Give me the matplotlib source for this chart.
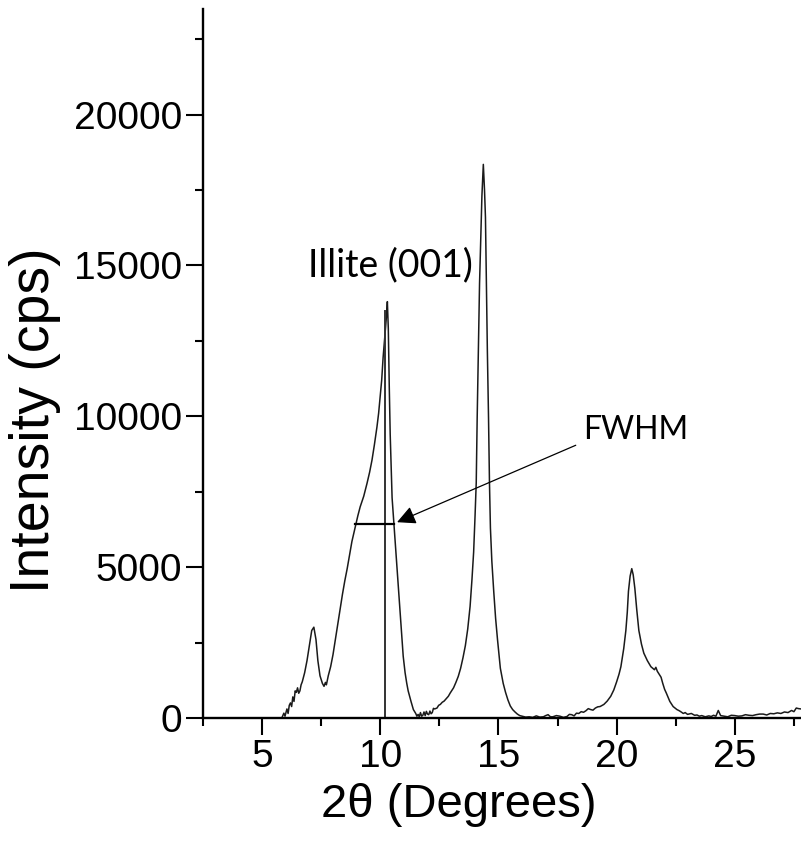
import matplotlib
matplotlib.use("Agg")
import matplotlib.pyplot as plt
from matplotlib.ticker import MultipleLocator

# 2theta (deg) and intensity (cps)
two_theta = [5.85, 5.92, 5.97, 6.05, 6.1, 6.15, 6.2, 6.25, 6.3, 6.35, 6.4, 6.45, 6.5, 6.55,
             6.6, 6.65, 6.7, 6.8, 6.9, 7.0,
             7.1, 7.19, 7.28, 7.36, 7.45, 7.55, 7.62, 7.68, 7.72, 7.8, 7.9, 8.0, 8.1, 8.2,
             8.3, 8.4, 8.5, 8.6, 8.7, 8.8, 8.93, 9.05, 9.15, 9.3, 9.44, 9.55, 9.65,
             9.75, 9.86, 9.93, 9.99, 10.06, 10.12, 10.2, 10.26, 10.3, 10.34, 10.38,
             10.42, 10.46, 10.5, 10.58, 10.65, 10.71, 10.78, 10.84, 10.91, 10.97,
             11.05, 11.12, 11.18, 11.3, 11.4, 11.5, 11.55, 11.6, 11.65, 11.7, 11.75,
             11.8, 11.85, 11.9, 11.95, 12.0, 12.05, 12.1, 12.15, 12.2, 12.25, 12.3,
             12.4, 12.47, 12.54, 12.62, 12.7, 12.8, 12.88, 12.96, 13.1, 13.2, 13.3,
             13.4, 13.5, 13.6, 13.7, 13.8, 13.88, 13.95, 14.01, 14.06, 14.1, 14.15,
             14.2, 14.25, 14.3, 14.36, 14.41, 14.45, 14.49, 14.53, 14.58, 14.62,
             14.66, 14.72, 14.8, 14.88, 14.96, 15.08, 15.2, 15.3, 15.4, 15.5, 15.6,
             15.7, 15.8, 15.9, 16.0, 16.15, 16.3, 16.45, 16.6, 16.75, 16.9, 17.0, 17.1,
             17.2, 17.3, 17.45, 17.6, 17.75, 17.9, 18.0, 18.1, 18.2, 18.3, 18.4, 18.5,
             18.6, 18.7, 18.8, 18.9, 19.0, 19.1, 19.2, 19.3, 19.46, 19.6, 19.75, 19.88,
             20.0, 20.1, 20.18, 20.3, 20.39, 20.45, 20.5, 20.57, 20.64, 20.7, 20.77,
             20.85, 20.94, 21.05, 21.15, 21.3, 21.45, 21.6, 21.66, 21.72, 21.8, 21.88,
             21.95, 22.03, 22.1, 22.25, 22.39, 22.55, 22.65, 22.73, 22.82, 22.9, 23.0,
             23.16, 23.3, 23.4, 23.5, 23.6, 23.75, 23.9, 24.0, 24.1, 24.2, 24.3, 24.4,
             24.55, 24.7, 24.85, 25.0, 25.15, 25.3, 25.45, 25.6, 25.75, 25.9, 26.05,
             26.2, 26.35, 26.5, 26.65, 26.8, 26.95, 27.1, 27.25, 27.4, 27.5, 27.6, 27.7,
             27.8]
intensity = [30, 160, 60, 300, 150, 420, 500, 380, 700, 550, 900, 850, 1000, 820,
             900, 1100, 1200, 1500, 1900, 2400,
             2900, 3010, 2600, 1900, 1400, 1150, 1050, 1180, 1100, 1400, 1700, 2100, 2600, 3100,
             3600, 4100, 4550, 4950, 5400, 5850, 6300, 6700, 7000, 7350, 7780, 8150, 8550,
             9050, 9650, 10100, 10600, 11200, 11950, 12700, 13300, 13800, 12900, 11000,
             9400, 8300, 7300, 6400, 5600, 4900, 4150, 3450, 2700, 2050,
             1500, 1150, 900, 550, 280, 150, 60, 120, 40, 180, 60,
             90, 200, 80, 220, 130, 110, 230, 140, 180, 320, 300,
             330, 420, 450, 520, 560, 650, 720, 830, 1000, 1180, 1380,
             1650, 2000, 2400, 2950, 3700, 4600, 5500, 6700, 7800, 9950, 12200,
             14400, 15800, 17300, 18350, 17500, 16600, 14400, 12200, 9950, 7800,
             6300, 5200, 4200, 3300, 2600, 1650, 1150, 850, 600, 400, 280,
             200, 130, 80, 60, 30, 40, 20, 70, 30, 40, 80, 110,
             40, 40, 80, 60, 20, 50, 120, 110, 70, 160, 150, 210,
             190, 240, 310, 280, 260, 330, 370, 380, 450, 560, 720, 930,
             1200, 1450, 1700, 2300, 2900, 3500, 4200, 4700, 4950, 4750, 4300,
             3600, 2900, 2450, 2150, 1900, 1700, 1600, 1680, 1550, 1450, 1350,
             1150, 950, 830, 550, 380, 280, 240, 200, 150, 180, 120,
             150, 90, 100, 60, 80, 40, 70, 50, 90, 60, 250, 80,
             60, 40, 90, 80, 60, 70, 110, 90, 80, 110, 130,
             130, 100, 150, 140, 170, 150, 200, 180, 250, 210, 330, 310,
             300]

peak_pos = 10.2
peak_top = 13500
fwhm_left = 8.93
fwhm_right = 10.58
fwhm_level = 6420

fig = plt.figure(figsize=(8.01, 8.43), dpi=100)
ax = fig.add_axes([203/801, 1-718/843, 598/801, 709/843])

ax.plot(two_theta, intensity, color="#1a1a1a", lw=1.1)
ax.plot([peak_pos, peak_pos], [0, peak_top], color="#333333", lw=1.4)
ax.plot([fwhm_left, fwhm_right], [fwhm_level, fwhm_level], color="black", lw=1.6)

ax.annotate("", xy=(10.71, 6490), xytext=(18.27, 9040),
            arrowprops=dict(arrowstyle="-|>", color="black", lw=0.9,
                            mutation_scale=28, shrinkA=0, shrinkB=0))
ax.text(18.57, 9540, "FWHM", family="Lato", fontsize=23, va="center", ha="left")
ax.text(10.41, 15000, "Illite (001)", family="Lato", fontsize=27, va="center", ha="center")

ax.set_xlim(2.5, 27.8)
ax.set_ylim(0, 23500)
ax.xaxis.set_major_locator(MultipleLocator(5))
ax.xaxis.set_minor_locator(MultipleLocator(2.5))
ax.yaxis.set_major_locator(MultipleLocator(5000))
ax.yaxis.set_minor_locator(MultipleLocator(2500))

for s in ["top", "right"]:
    ax.spines[s].set_visible(False)
for s in ["left", "bottom"]:
    ax.spines[s].set_linewidth(1.7)

ax.tick_params(which="major", direction="out", length=12, width=1.5, pad=3,
               labelsize=28)
ax.tick_params(which="minor", direction="out", length=6, width=1.5)
for lab in ax.get_xticklabels() + ax.get_yticklabels():
    lab.set_family("Liberation Sans")

ax.set_xlabel("2θ (Degrees)", family="Liberation Sans", fontsize=34, labelpad=6)
ax.xaxis.set_label_coords(0.428, -0.092)
ax.set_ylabel("Intensity (cps)", family="Liberation Sans", fontsize=40, labelpad=8)
ax.yaxis.set_label_coords(-0.238, 0.42)

fig.savefig("out.png", dpi=100)
